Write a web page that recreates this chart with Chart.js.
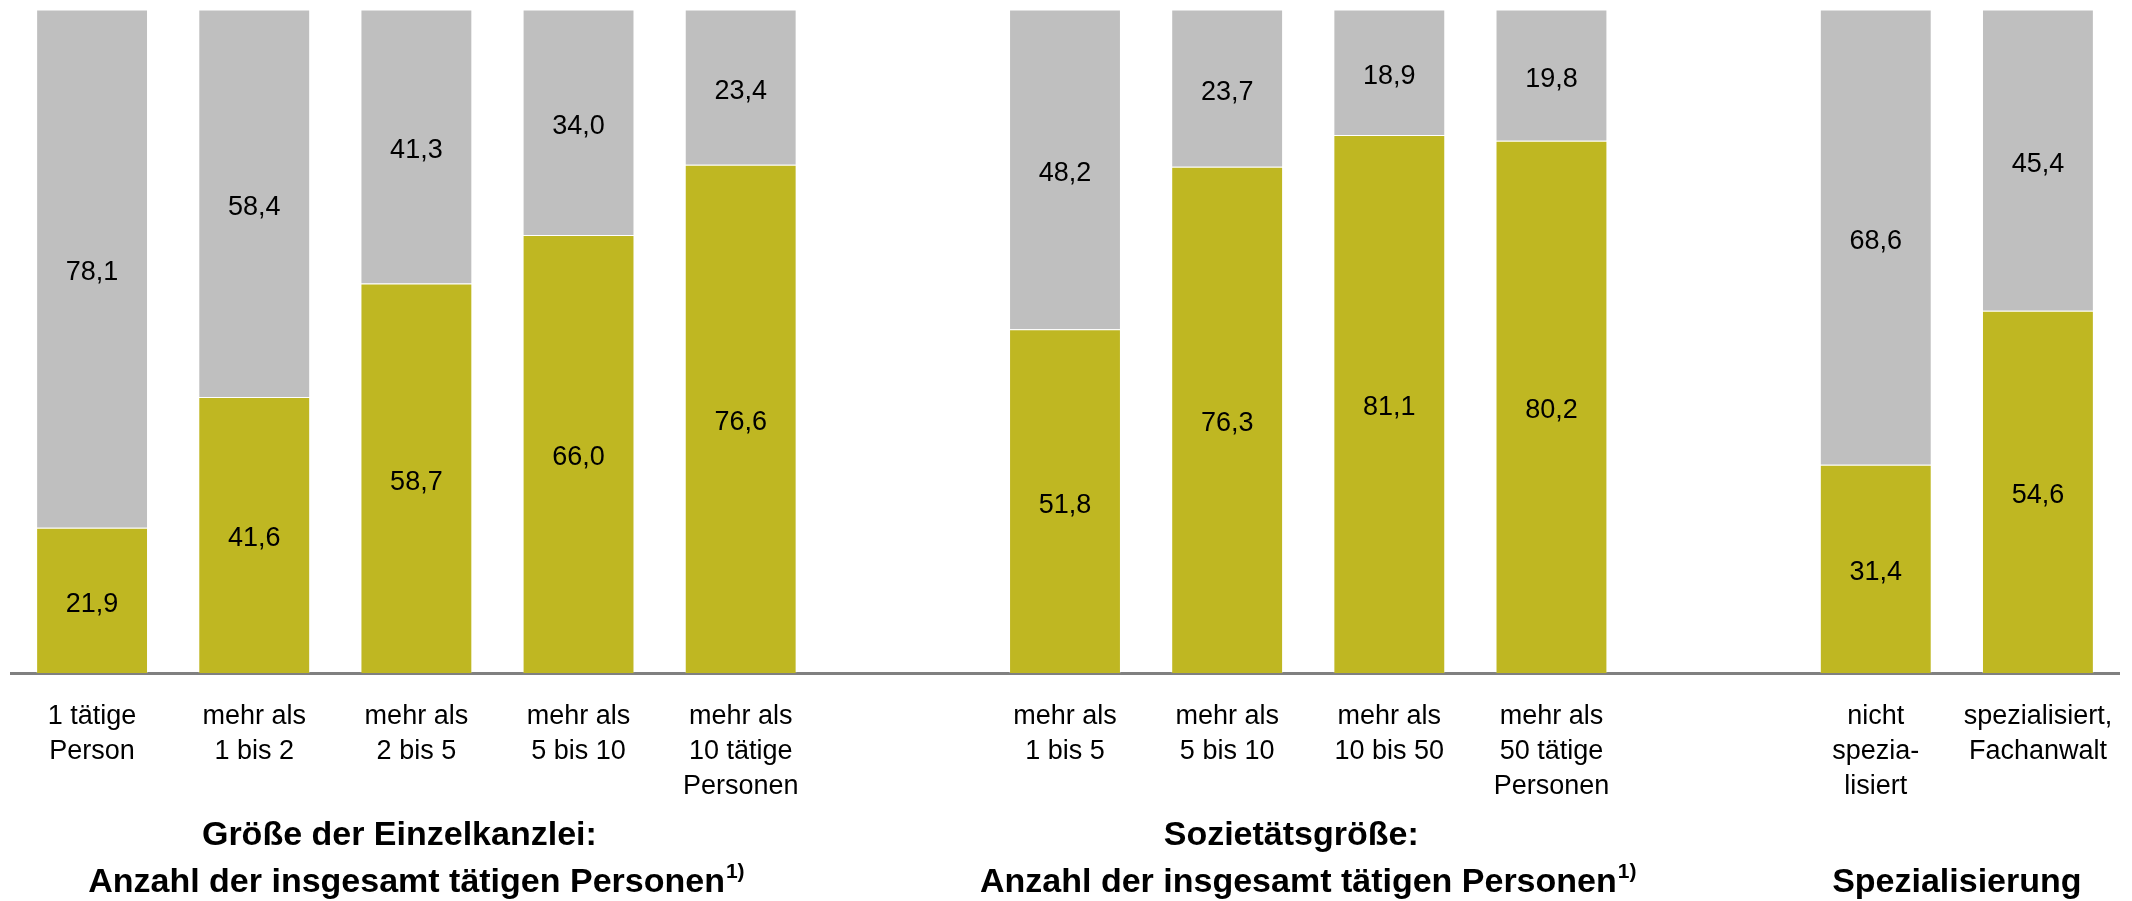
<!DOCTYPE html>
<html lang="de">
<head>
<meta charset="utf-8">
<title>Kanzleigröße und Spezialisierung</title>
<script src="https://cdn.jsdelivr.net/npm/chart.js@4/dist/chart.umd.min.js"></script>
<style>
  html, body { margin: 0; padding: 0; background: #fff; }
  #wrap { width: 2132px; height: 901px; }
</style>
</head>
<body>
<div id="wrap"><canvas id="chart" width="2132" height="901"></canvas></div>
<script>
// Gestapelte Säulen (Anteile in %), drei Gruppen mit je einer Leerspalte dazwischen

// ===== Daten =====
const categories = [
  ["1 tätige", "Person"],
  ["mehr als", "1 bis 2"],
  ["mehr als", "2 bis 5"],
  ["mehr als", "5 bis 10"],
  ["mehr als", "10 tätige", "Personen"],
  "",
  ["mehr als", "1 bis 5"],
  ["mehr als", "5 bis 10"],
  ["mehr als", "10 bis 50"],
  ["mehr als", "50 tätige", "Personen"],
  "",
  ["nicht", "spezia-", "lisiert"],
  ["spezialisiert,", "Fachanwalt"],
];
const olivValues = [21.9, 41.6, 58.7, 66.0, 76.6, null, 51.8, 76.3, 81.1, 80.2, null, 31.4, 54.6];
const grauValues = [78.1, 58.4, 41.3, 34.0, 23.4, null, 48.2, 23.7, 18.9, 19.8, null, 68.6, 45.4];

// Gruppentitel: erste/letzte Spalte der Gruppe
const groupFrom = [0, 6, 11];
const groupTo = [4, 9, 12];
const groupLines = [
  ["Größe der Einzelkanzlei:", "Anzahl der insgesamt tätigen Personen"],
  ["Sozietätsgröße:", "Anzahl der insgesamt tätigen Personen"],
  ["Spezialisierung"],
];
const groupSup = ["1)", "1)", ""];

// ===== Stil =====
const FONT = '"Liberation Sans", Arial, sans-serif';
const OLIV = "#bfb722";
const GRAU = "#bfbfbf";

const fmt = (v) => v.toFixed(1).replace(".", ",");

// Werte mittig in die Segmente schreiben
const valueLabels = {
  id: "valueLabels",
  afterDatasetsDraw(chart) {
    const ctx = chart.ctx;
    ctx.save();
    ctx.font = "27px " + FONT;
    ctx.fillStyle = "#000";
    ctx.textAlign = "center";
    ctx.textBaseline = "middle";
    chart.data.datasets.forEach((ds, di) => {
      const meta = chart.getDatasetMeta(di);
      meta.data.forEach((bar, i) => {
        const v = ds.data[i];
        if (v == null) return;
        const p = bar.getProps(["x", "y", "base"], true);
        ctx.fillText(fmt(v), p.x, (p.y + p.base) / 2 + 4);
      });
    });
    ctx.restore();
  },
};

// Gruppentitel unter der x-Achse
const groupTitles = {
  id: "groupTitles",
  afterDraw(chart) {
    const ctx = chart.ctx;
    const xs = chart.scales.x;
    ctx.save();
    ctx.fillStyle = "#000";
    ctx.textBaseline = "middle";
    ctx.textAlign = "left";
    groupLines.forEach((lines, g) => {
      const cx = (xs.getPixelForValue(groupFrom[g]) + xs.getPixelForValue(groupTo[g])) / 2;
      const rows = lines.length === 1 ? [879] : [832, 879];
      lines.forEach((txt, li) => {
        const last = li === lines.length - 1;
        const sup = last ? groupSup[g] : "";
        ctx.font = "bold 34px " + FONT;
        const w = ctx.measureText(txt).width;
        ctx.font = "bold 21px " + FONT;
        const sw = sup ? ctx.measureText(sup).width + 1 : 0;
        let left = cx - (w + sw) / 2;
        if (lines.length > 1 && li === 0) left -= 17;
        ctx.font = "bold 34px " + FONT;
        ctx.fillText(txt, left, rows[li] + 3.5);
        if (sup) {
          ctx.font = "bold 21px " + FONT;
          ctx.fillText(sup, left + w + 1, rows[li] - 6.5);
        }
      });
    });
    ctx.restore();
  },
};

new Chart(document.getElementById("chart"), {
  type: "bar",
  data: {
    labels: categories,
    datasets: [
      {
        label: "ja",
        data: olivValues,
        backgroundColor: OLIV,
        borderColor: "rgba(255,255,255,0.25)",
        borderWidth: 1,
        barPercentage: 0.69,
        categoryPercentage: 1,
      },
      {
        label: "nein",
        data: grauValues,
        backgroundColor: GRAU,
        borderColor: "rgba(255,255,255,0.25)",
        borderWidth: 1,
        barPercentage: 0.69,
        categoryPercentage: 1,
      },
    ],
  },
  options: {
    responsive: false,
    animation: false,
    layout: { padding: { left: 11, right: 13, top: 9.5, bottom: 0 } },
    plugins: {
      legend: { display: false },
      tooltip: { enabled: false },
    },
    scales: {
      x: {
        stacked: true,
        grid: { display: false, drawTicks: false },
        border: { display: true, color: "#808080", width: 3 },
        ticks: {
          color: "#000",
          font: { family: FONT, size: 27, lineHeight: 1.3 },
          padding: 26,
          autoSkip: false,
          maxRotation: 0,
          minRotation: 0,
        },
        afterFit(scale) {
          scale.height = 228;
          // breite Randbeschriftung soll die Achse nicht einrücken
          scale.paddingLeft = 0;
          scale.paddingRight = 0;
        },
      },
      y: {
        stacked: true,
        display: false,
        min: 0,
        max: 100,
      },
    },
  },
  plugins: [valueLabels, groupTitles],
});
</script>
</body>
</html>
